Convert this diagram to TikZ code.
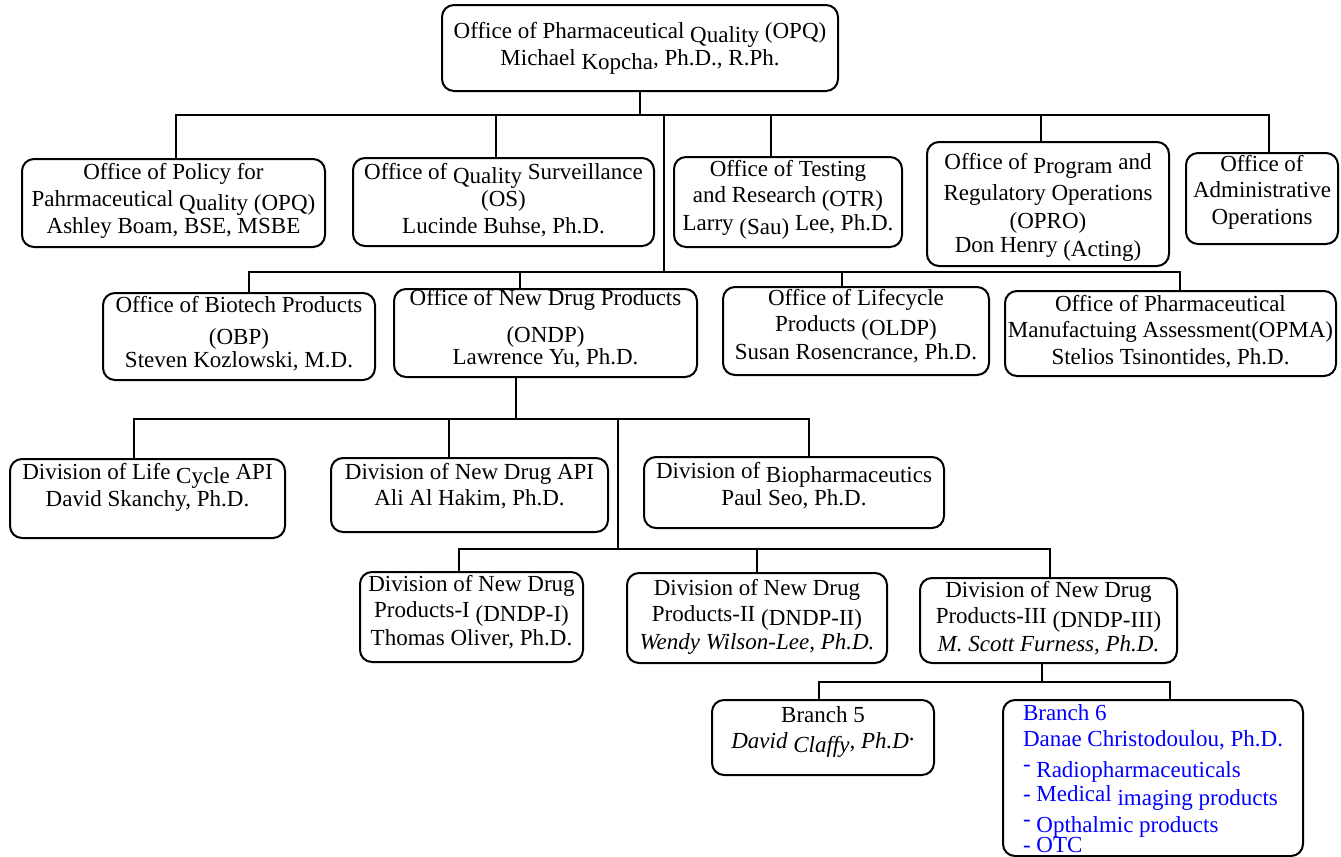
\documentclass[tikz,border=0pt]{standalone}
\usepackage{fontspec}
\setmainfont{Liberation Serif}
\definecolor{branchblue}{RGB}{0,0,255}
\newcommand{\boxlines}[2][0pt]{\raisebox{#1}[0pt][0pt]{\begin{tabular}{@{}c@{}}#2\end{tabular}}}
\newcommand{\boxleft}[2][0pt]{\raisebox{#1}[0pt][0pt]{\begin{tabular}{@{}l@{}}#2\end{tabular}}}
\newcommand{\sunk}[1]{\raisebox{-2pt}{#1}}

\begin{document}
\begin{tikzpicture}
  [
    x=0.5pt, y=-0.5pt,
    unit/.style={draw, line width=1pt, rounded corners=6pt, inner sep=0pt,
      font=\fontsize{11.5}{13.25}\selectfont},
    link/.style={line width=1.25pt, line cap=rect}
  ]
  \useasboundingbox (0,0) rectangle (1341,857);

  % offices
  \node[unit, minimum width=198pt, minimum height=43pt] (opq) at (640,48)
    {\boxlines[-2.5pt]{Office of Pharmaceutical \sunk{Quality} (OPQ)\\ Michael \sunk{Kopcha}, Ph.D., R.Ph.}};
  \node[unit, minimum width=151.5pt, minimum height=44pt] (opp) at (173.5,203)
    {\boxlines[-2.25pt]{Office of Policy for\\ Pahrmaceutical \sunk{Quality (OPQ)}\\ Ashley Boam, BSE, MSBE}};
  \node[unit, minimum width=150.5pt, minimum height=44pt] (os) at (503.5,202)
    {\boxlines[-2.5pt]{Office of \sunk{Quality} Surveillance\\ (OS)\\ Lucinde Buhse, Ph.D.}};
  \node[unit, minimum width=114pt, minimum height=45pt] (otr) at (788,202)
    {\boxlines[-1.25pt]{Office of Testing\\ and Research \sunk{(OTR)}\\ Larry \sunk{(Sau)} Lee, Ph.D.}};
  \node[unit, minimum width=121pt, minimum height=62pt] (opro) at (1048,204)
    {\boxlines[-4pt]{Office of \sunk{Program} and\\[2pt] Regulatory Operations\\[1pt] (OPRO)\\[-1.5pt] Don Henry \sunk{(Acting)}}};
  \node[unit, minimum width=76pt, minimum height=45.5pt] (oao) at (1262,198.5)
    {\boxlines{Office of\\ Administrative\\ Operations}};

  \node[unit, minimum width=136pt, minimum height=43.5pt] (obp) at (239,336.5)
    {\boxlines[-2pt]{Office of Biotech Products\\[3pt] (OBP)\\[-2pt] Steven Kozlowski, M.D.}};
  \node[unit, minimum width=151.5pt, minimum height=44pt] (ondp) at (545.5,333)
    {\boxlines[-1.5pt]{Office of New Drug Products\\[5pt] (ONDP)\\[-2pt] Lawrence Yu, Ph.D.}};
  \node[unit, minimum width=133pt, minimum height=44pt] (oldp) at (856,331)
    {\boxlines[-1pt]{Office of Lifecycle\\ Products \sunk{(OLDP)}\\ Susan Rosencrance, Ph.D.}};
  \node[unit, minimum width=165.5pt, minimum height=42.5pt] (opma) at (1170.5,333.5)
    {\boxlines[-2.5pt]{Office of Pharmaceutical\\ Manufactuing Assessment(OPMA)\\ Stelios Tsinontides, Ph.D.}};

  % divisions
  \node[unit, minimum width=137.5pt, minimum height=39.5pt] (dlca) at (147.5,498.5)
    {\boxlines[2.5pt]{Division of Life \sunk{Cycle} API\\ David Skanchy, Ph.D.}};
  \node[unit, minimum width=138.5pt, minimum height=37pt] (dnda) at (469.5,495)
    {\boxlines[1pt]{Division of New Drug API\\ Ali Al Hakim, Ph.D.}};
  \node[unit, minimum width=150pt, minimum height=35.5pt] (dbio) at (794,492.5)
    {\boxlines{Division of \sunk{Biopharmaceutics}\\ Paul Seo, Ph.D.}};

  \node[unit, minimum width=111.5pt, minimum height=45pt] (dndp1) at (471.5,617)
    {\boxlines[-1pt]{Division of New Drug\\ Products-I \sunk{(DNDP-I)}\\ Thomas Oliver, Ph.D.}};
  \node[unit, minimum width=130pt, minimum height=45pt] (dndp2) at (757,618)
    {\boxlines[-2.5pt]{Division of New Drug\\ Products-II \sunk{(DNDP-II)}\\ \textit{Wendy Wilson-Lee, Ph.D.}}};
  \node[unit, minimum width=128.5pt, minimum height=42.5pt] (dndp3) at (1048.5,620.5)
    {\boxlines[-2.25pt]{Division of New Drug\\ Products-III \sunk{(DNDP-III)}\\ \textit{M. Scott Furness, Ph.D.}}};

  % branches
  \node[unit, minimum width=111pt, minimum height=37.5pt] (br5) at (823,737.5)
    {\boxlines[0.5pt]{Branch 5\\ \textit{David \sunk{Claffy}, Ph.D}\raisebox{4pt}{.}}};
  \node[unit, text=branchblue, minimum width=150pt, minimum height=78pt] (br6) at (1153,778)
    {\boxleft[-4.5pt]{Branch 6\\ Danae Christodoulou, Ph.D.\\[2pt]
      \raisebox{3pt}{-} Radiopharmaceuticals\\[-1pt]
      - Medical \sunk{imaging products}\\[2pt]
      \raisebox{3pt}{-} Opthalmic products\\[-3pt]
      - OTC}};

  % first level
  \foreach \n/\x in {opp/176, os/496, otr/771, opro/1041, oao/1269}
  {
    \coordinate (\n-in) at (\x,115);
    \draw[link] (\n-in) -- (\n-in |- \n.north);
  }
  \draw[link] (opp-in) -- (oao-in);
  \draw[link] (opq.south) -- (opq.south |- opp-in);
  \coordinate (split1) at (664,115);

  % second level
  \foreach \n/\x in {obp/249, ondp/520, oldp/842, opma/1180}
  {
    \coordinate (\n-in) at (\x,272);
    \draw[link] (\n-in) -- (\n-in |- \n.north);
  }
  \draw[link] (obp-in) -- (opma-in);
  \draw[link] (split1) -- (split1 |- obp-in);

  % under ONDP
  \coordinate (ondp-out) at (516,419);
  \draw[link] (ondp-out |- ondp.south) -- (ondp-out);
  \foreach \n/\x in {dlca/134, dnda/449, dbio/809}
  {
    \coordinate (\n-in) at (\x,419);
    \draw[link] (\n-in) -- (\n-in |- \n.north);
  }
  \draw[link] (dlca-in) -- (dbio-in);
  \coordinate (split2) at (618,419);

  \foreach \n/\x in {dndp1/459, dndp2/757, dndp3/1050}
  {
    \coordinate (\n-in) at (\x,549);
    \draw[link] (\n-in) -- (\n-in |- \n.north);
  }
  \draw[link] (dndp1-in) -- (dndp3-in);
  \draw[link] (split2) -- (split2 |- dndp1-in);

  % under DNDP-III
  \coordinate (dndp3-out) at (1042,682);
  \draw[link] (dndp3-out |- dndp3.south) -- (dndp3-out);
  \foreach \n/\x in {br5/819, br6/1170}
  {
    \coordinate (\n-in) at (\x,682);
    \draw[link] (\n-in) -- (\n-in |- \n.north);
  }
  \draw[link] (br5-in) -- (br6-in);
\end{tikzpicture}
\end{document}
